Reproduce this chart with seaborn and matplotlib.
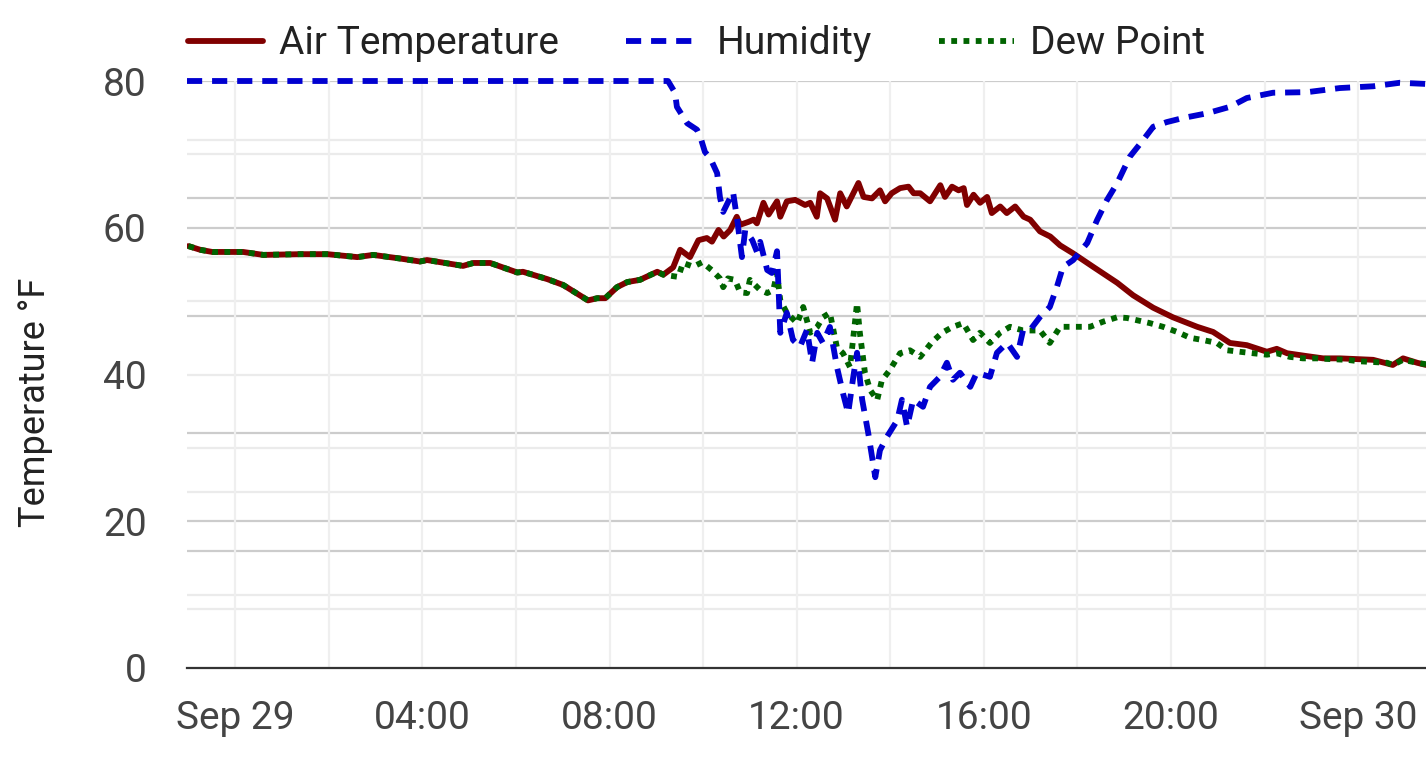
import numpy as np
import pandas as pd
import matplotlib
matplotlib.use("Agg")
import matplotlib.pyplot as plt
import matplotlib.dates as mdates
from matplotlib.ticker import FuncFormatter
import seaborn as sns

# hours after midnight on Sep 29 and readings
temp_hours = [-1.00, -0.75, -0.49, 0.17, 0.60, 1.39, 1.97, 2.61, 2.95, 3.53, 3.95, 4.10,
              4.87, 5.09, 5.45, 6.03, 6.15, 6.67, 7.01, 7.54, 7.74, 7.91, 8.16, 8.38,
              8.65, 9.02, 9.15, 9.36, 9.51, 9.72, 9.90, 10.08, 10.19, 10.33, 10.44, 10.58,
              10.72, 10.79, 10.97, 11.08, 11.15, 11.29, 11.40, 11.58, 11.65, 11.79, 11.97, 12.18,
              12.29, 12.43, 12.50, 12.65, 12.82, 12.93, 13.07, 13.32, 13.43, 13.61, 13.78, 13.89,
              14.03, 14.21, 14.39, 14.50, 14.64, 14.85, 15.07, 15.17, 15.32, 15.46, 15.57, 15.64,
              15.78, 15.92, 16.07, 16.17, 16.35, 16.49, 16.67, 16.85, 16.99, 17.20, 17.42, 17.63,
              17.91, 18.33, 18.85, 19.19, 19.62, 20.04, 20.56, 20.90, 21.26, 21.62,
              22.05, 22.26, 22.48, 22.91, 23.25, 23.61, 24.32, 24.74, 24.96, 25.26, 25.45]
air_temp = [57.5, 57.0, 56.7, 56.7, 56.3, 56.4, 56.4, 56.0, 56.3, 55.8, 55.4, 55.6,
            54.8, 55.2, 55.2, 53.9, 54.0, 53.0, 52.2, 50.1, 50.4, 50.4, 51.9, 52.6,
            52.9, 54.0, 53.6, 54.6, 57.0, 56.0, 58.3, 58.6, 58.1, 59.7, 58.8, 59.7,
            61.5, 60.4, 60.8, 61.1, 60.6, 63.4, 61.8, 63.6, 61.5, 63.6, 63.8, 63.1,
            63.4, 61.5, 64.7, 64.0, 61.1, 64.7, 62.9, 66.1, 64.2, 64.0, 65.1, 63.6,
            64.7, 65.4, 65.6, 64.7, 64.7, 63.6, 65.8, 64.2, 65.6, 65.1, 65.4, 63.1,
            64.5, 63.4, 64.2, 62.0, 62.9, 62.0, 62.9, 61.5, 61.1, 59.5, 58.8, 57.6,
            56.5, 54.7, 52.5, 50.8, 49.1, 47.8, 46.5, 45.8, 44.3, 44.0,
            43.1, 43.5, 42.9, 42.5, 42.2, 42.2, 42.0, 41.3, 42.2, 41.6, 41.3]

dew_hours = [-1.00, -0.75, -0.49, 0.17, 0.60, 1.39, 1.97, 2.61, 2.95, 3.53, 3.95, 4.10,
             4.87, 5.09, 5.45, 6.03, 6.15, 6.67, 7.01, 7.54, 7.74, 7.91, 8.16, 8.38,
             8.65, 9.02, 9.15, 9.47, 9.57, 9.79, 9.98, 10.19, 10.36, 10.43, 10.53, 10.68,
             10.79, 10.94, 11.00, 11.22, 11.37, 11.50, 11.58, 11.65, 11.79, 12.01, 12.14, 12.29,
             12.44, 12.56, 12.71, 12.86, 12.99, 13.14, 13.29, 13.35, 13.46, 13.57, 13.72, 13.82,
             13.99, 14.21, 14.42, 14.64, 14.89, 15.11, 15.34, 15.56, 15.77, 15.92, 16.13, 16.35,
             16.56, 16.84, 17.20, 17.41, 17.63, 17.99, 18.27, 18.55, 18.85, 19.06, 19.27, 19.55,
             19.83, 20.13, 20.41, 20.68, 20.98, 21.20, 21.47, 21.75, 22.05, 22.26, 22.54, 22.82,
             23.12, 23.40, 23.76, 24.03, 24.32, 24.62, 24.74, 24.96, 25.26, 25.45]
dew_point = [57.5, 57.0, 56.7, 56.7, 56.3, 56.4, 56.4, 56.0, 56.3, 55.8, 55.4, 55.6,
             54.8, 55.2, 55.2, 53.9, 54.0, 53.0, 52.2, 50.1, 50.4, 50.4, 51.9, 52.6,
             52.9, 54.0, 53.6, 53.3, 55.2, 54.7, 55.3, 54.2, 53.1, 51.9, 53.1, 52.9,
             51.2, 51.1, 52.9, 51.5, 51.1, 51.5, 53.8, 50.1, 48.4, 47.0, 49.2, 45.7,
             46.5, 47.8, 48.4, 43.7, 42.9, 41.0, 49.7, 45.7, 40.2, 37.9, 36.5, 39.2,
             40.6, 42.9, 43.3, 42.4, 44.4, 45.7, 46.5, 47.0, 44.7, 45.7, 44.3, 45.7,
             46.5, 46.0, 46.0, 44.3, 46.5, 46.5, 46.5, 47.2, 47.8, 47.7, 47.4, 47.0,
             46.5, 45.8, 45.0, 44.7, 44.3, 43.3, 43.1, 42.9, 42.7, 42.9, 42.4, 42.2,
             42.2, 42.1, 42.0, 41.8, 41.7, 41.6, 41.3, 42.0, 41.6, 41.4]

hum_hours = [-1.03, 9.25, 9.40, 9.44, 9.55, 9.66, 9.87, 9.94, 10.04, 10.15, 10.30, 10.36,
             10.43, 10.64, 10.73, 10.83, 10.90, 11.05, 11.15, 11.22, 11.37, 11.47, 11.58, 11.65,
             11.79, 11.92, 12.07, 12.22, 12.33, 12.44, 12.56, 12.71, 12.86, 12.99, 13.10, 13.21,
             13.29, 13.40, 13.53, 13.68, 13.78, 13.93, 14.15, 14.25, 14.36, 14.49, 14.70, 14.85,
             15.06, 15.21, 15.34, 15.49, 15.71, 15.85, 16.13, 16.28, 16.50, 16.71, 16.84, 16.99,
             17.20, 17.41, 17.56, 17.69, 17.91, 18.21, 18.42, 18.63, 18.85, 19.12, 19.40, 19.62,
             19.91, 20.26, 20.77, 21.26, 21.62, 22.18, 22.91, 23.61, 24.32, 24.89, 25.45]
humidity = [100, 100, 98.0, 95.6, 94.2, 92.8, 91.7, 90.5, 87.9, 86.9, 84.3, 80.2,
            77.7, 81.1, 76.3, 70.0, 74.6, 72.9, 70.9, 72.6, 67.8, 67.3, 71.0, 57.1,
            60.5, 55.9, 54.7, 57.6, 52.0, 57.1, 55.4, 58.1, 51.3, 46.8, 43.4, 49.6,
            53.7, 45.7, 40.0, 32.5, 37.1, 39.4, 42.2, 45.7, 41.1, 45.7, 44.5, 47.9,
            49.6, 52.0, 49.1, 50.3, 47.9, 50.3, 49.6, 53.7, 55.4, 53.0, 57.6, 57.6,
            59.8, 61.5, 64.9, 68.3, 69.5, 72.4, 76.3, 79.7, 82.6, 87.1, 89.9, 92.2,
            93.0, 93.7, 94.5, 95.6, 97.1, 98.0, 98.1, 98.8, 99.1, 99.7, 99.5]

base = pd.Timestamp("2023-09-29")


def to_times(hours):
    return base + pd.to_timedelta(np.array(hours), unit="h")


sns.set_style("white")
plt.rcParams["font.family"] = ["Roboto", "DejaVu Sans"]

fig = plt.figure(figsize=(14.26, 7.6), dpi=100)
ax = fig.add_axes([187 / 1426, 92 / 760, 1239 / 1426, 587 / 760])
ax2 = ax.twinx()

red = "#800000"
blue = "#0000d0"
green = "#006400"
lw = 4.2
fs = 28

sns.lineplot(x=to_times(temp_hours), y=air_temp, ax=ax, color=red, linewidth=lw,
             label="Air Temperature", legend=False)
sns.lineplot(x=to_times(dew_hours), y=dew_point, ax=ax, color=green, linewidth=lw,
             linestyle=(0, (1, 1.1)), label="Dew Point", legend=False)
sns.lineplot(x=to_times(hum_hours), y=humidity, ax=ax2, color=blue, linewidth=lw,
             linestyle=(0, (2.6, 1.7)), label="Humidity", legend=False, clip_on=False)

# axis ranges
ax.set_xlim(base + pd.Timedelta(hours=-1.03), base + pd.Timedelta(hours=25.45))
ax.set_ylim(0, 80)
ax2.set_ylim(0, 100)

# gridlines: temperature axis, then humidity axis (drawn on the lower axes)
ax.set_yticks([0, 20, 40, 60, 80])
for v in [20, 60, 80]:
    ax.axhline(v, color="#cccccc", lw=1.6, zorder=0)
for v in [10, 30, 50, 70]:
    ax.axhline(v, color="#ebebeb", lw=1.6, zorder=0)
for p in [20, 40, 60, 80]:
    ax.axhline(p * 80 / 100, color="#cccccc", lw=1.6, zorder=0.2)
for p in [10, 30, 50, 70, 90]:
    ax.axhline(p * 80 / 100, color="#ebebeb", lw=1.6, zorder=0.2)

ax.xaxis.set_major_locator(mdates.HourLocator(byhour=range(0, 24, 4)))
ax.xaxis.set_minor_locator(mdates.HourLocator(byhour=range(0, 24, 2)))


def fmt_time(x, pos):
    d = mdates.num2date(x)
    return d.strftime("%b %d") if d.hour == 0 else d.strftime("%H:%M")


ax.xaxis.set_major_formatter(FuncFormatter(fmt_time))
ax.grid(axis="x", which="both", color="#efefef", lw=1.6, zorder=0)
ax.set_axisbelow(True)

ax.tick_params(axis="x", which="both", length=0, pad=23, labelsize=fs, colors="#444444")
ax.tick_params(axis="y", length=0, pad=29, labelsize=fs, colors="#444444")
ax2.set_yticks([])
ax2.tick_params(length=0)

for a in (ax, ax2):
    for s in ["left", "right", "top", "bottom"]:
        a.spines[s].set_visible(False)
ax.spines["bottom"].set_visible(True)
ax.spines["bottom"].set_color("#333333")
ax.spines["bottom"].set_linewidth(1.6)

ax.set_ylabel("Temperature °F", fontsize=26, color="#222222")
ax.yaxis.set_label_coords(-0.108, 0.453)
ax.set_xlabel("")

handles = [ax.get_lines()[0], ax2.get_lines()[0], ax.get_lines()[1]]
fig.legend(handles=handles, labels=["Air Temperature", "Humidity", "Dew Point"],
           loc="center left", bbox_to_anchor=(188 / 1426, 1 - 44 / 760), ncol=3,
           frameon=False, fontsize=fs, handlelength=1.93, handletextpad=0.41,
           columnspacing=1.72, borderpad=0, borderaxespad=0, labelcolor="#222222")

fig.savefig("out.png", dpi=100)
